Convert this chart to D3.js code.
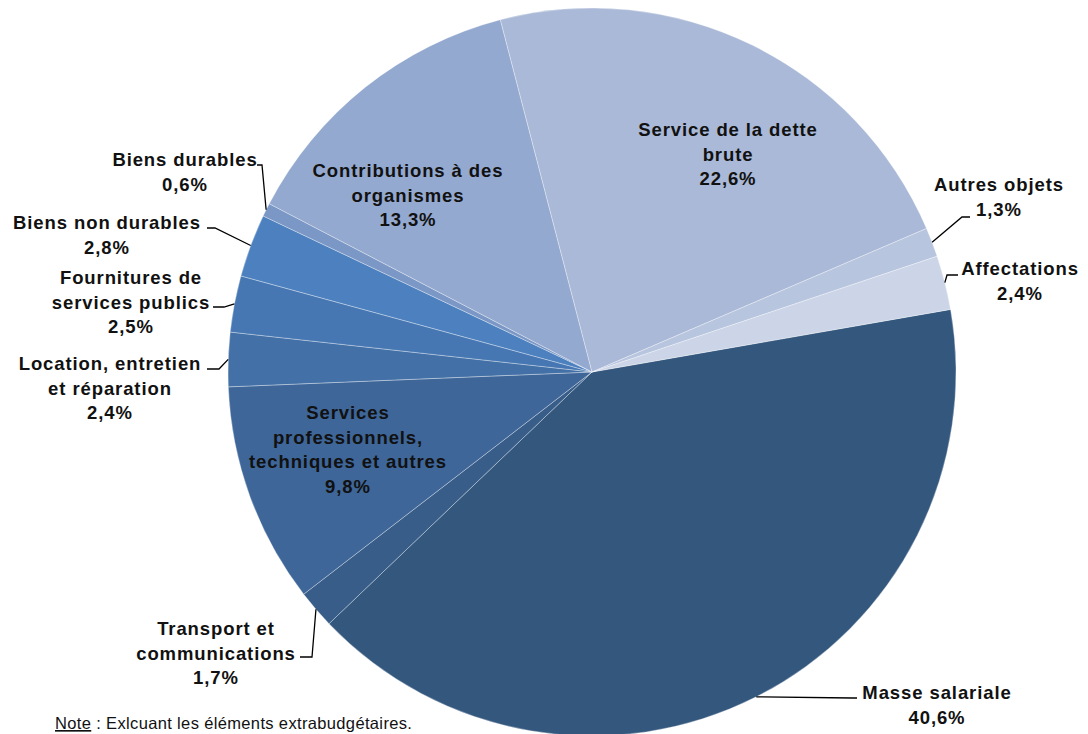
<!DOCTYPE html>
<html>
<head>
<meta charset="utf-8">
<script src="https://cdn.jsdelivr.net/npm/d3@7"></script>
<style>
	body { margin: 0; background: #fff; }
	svg { display: block; }
	.lbl { font-family: "Liberation Sans", Arial, Helvetica, sans-serif; font-weight: bold; font-size: 18.5px; letter-spacing: 0.9px; fill: #111; }
	.note { font-family: "Liberation Sans", Arial, Helvetica, sans-serif; font-size: 16.5px; letter-spacing: 0.35px; fill: #111; }
</style>
</head>
<body>
<script>
// data
const categories = [
	"Masse salariale",
	"Transport et communications",
	"Services professionnels, techniques et autres",
	"Location, entretien et réparation",
	"Fournitures de services publics",
	"Biens non durables",
	"Biens durables",
	"Contributions à des organismes",
	"Service de la dette brute",
	"Autres objets",
	"Affectations"
];
const shares = [40.6, 1.7, 9.8, 2.4, 2.5, 2.8, 0.6, 13.3, 22.6, 1.3, 2.4];
// texte des étiquettes, ligne par ligne
const labelLines = [
	["Masse salariale"],
	["Transport et", "communications"],
	["Services", "professionnels,", "techniques et autres"],
	["Location, entretien", "et réparation"],
	["Fournitures de", "services publics"],
	["Biens non durables"],
	["Biens durables"],
	["Contributions à des", "organismes"],
	["Service de la dette", "brute"],
	["Autres objets"],
	["Affectations"]
];
const colors = ["#34577e", "#375d88", "#3e6699", "#4370a6", "#4677b2", "#4c80bf",
	"#7a97c6", "#94a9d0", "#a9b9d7", "#b8c5df", "#cbd5e7"];

function drawPie() {
	let width = 1088,
		height = 734,
		cx = 592,
		cy = 372,
		radius = 364;

	// position des étiquettes (centre x, première ligne y)
	let labelPos = [
		[937, 699], [216, 635], [348, 419], [110, 370], [131, 284], [107, 229],
		[185, 166], [408, 177], [728, 136], [999, 191], [1020, 275]
	];
	// lignes de rappel: point près du texte, coude (null = étiquette interne)
	let leader = [
		[[857, 698], [852, 698]],
		[[300, 657], [312, 657]],
		null,
		[[207, 369], [219, 369]],
		[[213, 307], [224, 307]],
		[[207, 228], [215, 228]],
		[[257, 165], [262, 165]],
		null,
		null,
		[[970, 217], [962, 217]],
		[[958, 275], [947, 275]]
	];

	let svg = d3.select("body").append("svg")
		.attr("width", width)
		.attr("height", height);

	let g = svg.append("g").attr("transform", "translate(" + cx + "," + cy + ")");

	let startA = 80.1 * Math.PI / 180;
	let pie = d3.pie().sort(null).value((d) => d)
		.startAngle(startA).endAngle(startA + 2 * Math.PI);
	let arc = d3.arc().innerRadius(0).outerRadius(radius);
	let arcs = pie(shares);

	g.selectAll("path.slice")
		.data(arcs)
		.enter()
		.append("path")
		.attr("class", "slice")
		.attr("d", arc)
		.attr("fill", (d, i) => colors[i])
		.attr("stroke", "rgba(255,255,255,0.55)")
		.attr("stroke-width", 0.6);

	// lignes de rappel
	let line = d3.line();
	arcs.forEach((d, i) => {
		if (!leader[i]) return;
		let mid = (d.startAngle + d.endAngle) / 2;
		let edge = [cx + radius * Math.sin(mid), cy - radius * Math.cos(mid)];
		svg.append("path")
			.attr("d", line([leader[i][0], leader[i][1], edge]))
			.attr("fill", "none")
			.attr("stroke", "#000")
			.attr("stroke-width", 1.3);
	});

	// étiquettes
	arcs.forEach((d, i) => {
		let lines = labelLines[i].concat([d3.format(".1f")(shares[i]).replace(".", ",") + "%"]);
		let t = svg.append("text")
			.attr("class", "lbl")
			.attr("text-anchor", "middle");
		lines.forEach((s, k) => {
			t.append("tspan")
				.attr("x", labelPos[i][0])
				.attr("y", labelPos[i][1] + k * 24.5)
				.text(s);
		});
	});

	// note
	let note = svg.append("text").attr("class", "note").attr("x", 55).attr("y", 729);
	note.append("tspan").attr("text-decoration", "underline").text("Note");
	note.append("tspan").text(" : Exlcuant les éléments extrabudgétaires.");
}

window.addEventListener("load", drawPie);
</script>
</body>
</html>
